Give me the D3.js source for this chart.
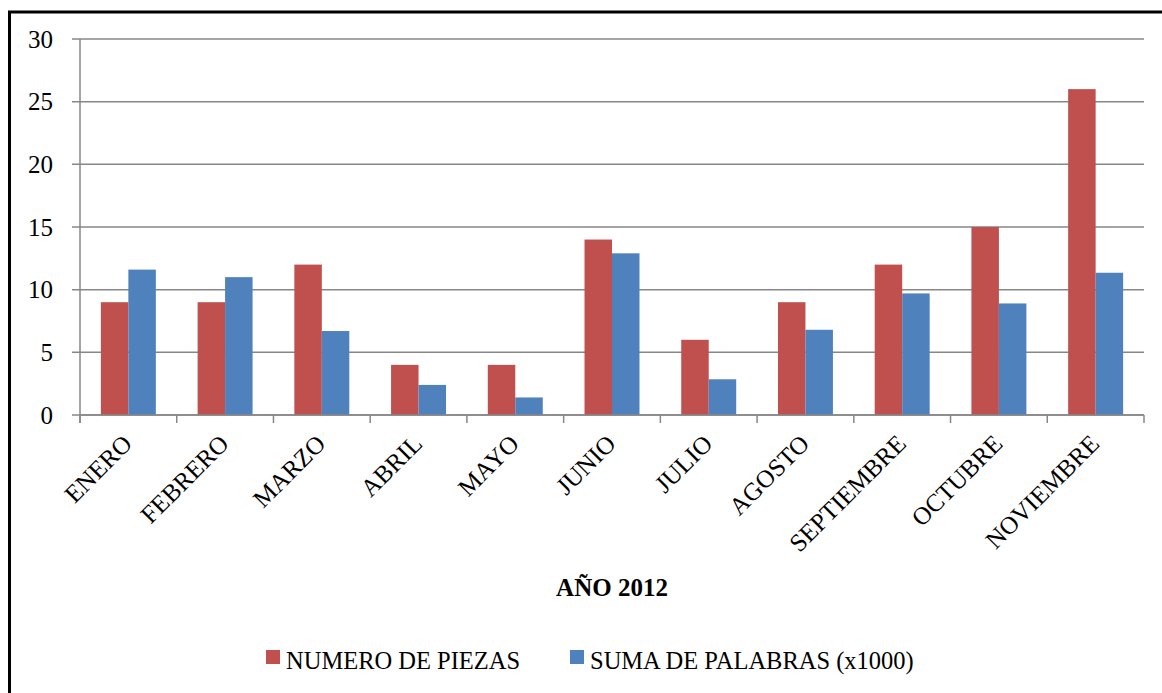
<!DOCTYPE html>
<html><head><meta charset="utf-8">
<script src="https://cdn.jsdelivr.net/npm/d3@7"></script>
<style>
html,body{margin:0;padding:0;background:#fff;}
svg{display:block;}
text{font-family:"Liberation Serif","DejaVu Serif",serif;fill:#000;}
</style></head>
<body>
<svg id="chart" width="1162" height="693"></svg>
<script>
const categories = ["ENERO","FEBRERO","MARZO","ABRIL","MAYO","JUNIO","JULIO","AGOSTO","SEPTIEMBRE","OCTUBRE","NOVIEMBRE"];
const piezas = [9, 9, 12, 4, 4, 14, 6, 9, 12, 15, 26];
const palabras = [11.6, 11.0, 6.7, 2.4, 1.4, 12.9, 2.85, 6.8, 9.7, 8.9, 11.35];
const seriesNames = ["NUMERO DE PIEZAS", "SUMA DE PALABRAS (x1000)"];
const colors = ["#C0504D", "#4F81BD"];
const yTicks = [0, 5, 10, 15, 20, 25, 30];
const axisTitle = "AÑO 2012";

const svg = d3.select("#chart");
const mLeft = 80, mRight = 1144, mTop = 39, mBottom = 415;

// frame (left and top edges)
svg.append("line").attr("x1", 9.5).attr("x2", 9.5).attr("y1", 11).attr("y2", 693)
  .attr("stroke", "#000").attr("stroke-width", 3);
svg.append("line").attr("x1", 8).attr("x2", 1162).attr("y1", 12).attr("y2", 12)
  .attr("stroke", "#000").attr("stroke-width", 3);

const x = d3.scaleBand().domain(categories).range([mLeft, mRight]).paddingInner(0).paddingOuter(0);
const xs = d3.scaleBand().domain([0, 1]).range([0, x.bandwidth()]).paddingInner(0).paddingOuter(0.76);
const y = d3.scaleLinear().domain([0, 30]).range([mBottom, mTop]);

// gridlines
svg.append("g").selectAll("line").data(yTicks).join("line")
  .attr("x1", mLeft - 8).attr("x2", mRight)
  .attr("y1", d => y(d)).attr("y2", d => y(d))
  .attr("stroke", "#878787").attr("stroke-width", 1.5);

// y axis line
svg.append("line").attr("x1", mLeft).attr("x2", mLeft).attr("y1", mTop).attr("y2", mBottom + 8)
  .attr("stroke", "#878787").attr("stroke-width", 1.5);

// y labels
svg.append("g").selectAll("text").data(yTicks).join("text")
  .attr("x", 53).attr("y", d => y(d)).attr("dy", "0.35em")
  .attr("text-anchor", "end").attr("font-size", 25).text(d => d);

// bars
const data = categories.map((c, i) => ({c, v: [piezas[i], palabras[i]]}));
const g = svg.append("g");
data.forEach(d => {
  g.selectAll(null).data(d.v).enter().append("rect")
    .attr("x", (v, j) => x(d.c) + xs(j))
    .attr("width", xs.bandwidth())
    .attr("y", v => y(v))
    .attr("height", v => y(0) - y(v))
    .attr("fill", (v, j) => colors[j]);
});

// x axis line + ticks
svg.append("line").attr("x1", mLeft).attr("x2", mRight).attr("y1", mBottom).attr("y2", mBottom)
  .attr("stroke", "#878787").attr("stroke-width", 1.5);
const boundaries = categories.map(c => x(c)).concat([mRight]);
svg.append("g").selectAll("line").data(boundaries).join("line")
  .attr("x1", d => d).attr("x2", d => d).attr("y1", mBottom).attr("y2", mBottom + 8)
  .attr("stroke", "#878787").attr("stroke-width", 1.5);

// x labels rotated
svg.append("g").selectAll("text").data(categories).join("text")
  .attr("transform", c => `translate(${x(c) + x.bandwidth() / 2 - 8},${432}) rotate(-45)`)
  .attr("text-anchor", "end").attr("dy", "0.75em").attr("font-size", 25).text(c => c);

// axis title
svg.append("text").attr("x", 612).attr("y", 596).attr("text-anchor", "middle")
  .attr("font-size", 25).attr("font-weight", "bold").text(axisTitle);

// legend
const legendX = [266, 570];
seriesNames.forEach((s, i) => {
  svg.append("rect").attr("x", legendX[i]).attr("y", 650).attr("width", 14).attr("height", 14).attr("fill", colors[i]);
  svg.append("text").attr("x", legendX[i] + 20).attr("y", 669).attr("font-size", 24.5).text(s);
});
</script>
</body></html>
